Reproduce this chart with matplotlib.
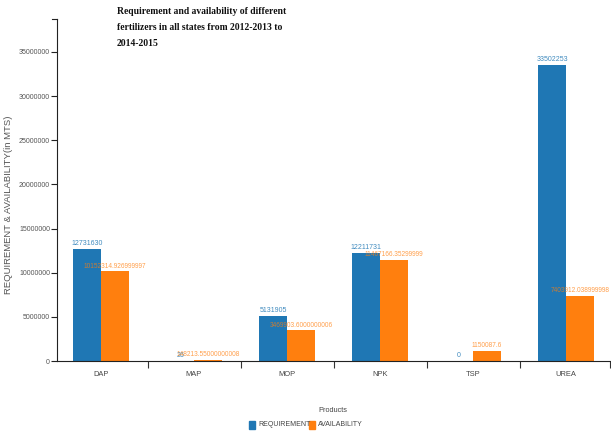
import matplotlib
matplotlib.use("Agg")
import matplotlib.pyplot as plt
from matplotlib.ticker import FixedLocator, NullFormatter

# Fertilizer data (in MTS)
products = ["DAP", "MAP", "MOP", "NPK", "TSP", "UREA"]
requirement = [12731630, 26, 5131905, 12211731, 0, 33502253]
availability = [10152314.926999997, 148213.55000000008, 3469903.6000000006,
                11467166.35299999, 1150087.6, 7403912.038999998]
requirement_labels = ["12731630", "26", "5131905", "12211731", "0", "33502253"]
availability_labels = ["10152314.926999997", "148213.55000000008", "3469903.6000000006",
                       "11467166.35299999", "1150087.6", "7403912.038999998"]
y_ticks = [0, 5000000, 10000000, 15000000, 20000000, 25000000, 30000000, 35000000]

BLUE = "#1f77b4"
ORANGE = "#ff7f0e"
SANS = "Liberation Sans"

W, H = 611, 437
fig = plt.figure(figsize=(W / 100, H / 100), dpi=100)
ax_left, ax_right, ax_top, ax_bottom = 57, 611, 19, 361
ax = fig.add_axes([ax_left / W, 1 - ax_bottom / H,
                   (ax_right - ax_left) / W, (ax_bottom - ax_top) / H])

band = 93.0
first_center = 101.0
ax.set_xlim(-(first_center - ax_left) / band, (ax_right - first_center) / band)
ax.set_ylim(0, 38730000)

bw = 0.30
x = list(range(len(products)))
ax.bar([i - bw / 2 for i in x], requirement, width=bw, color=BLUE)
ax.bar([i + bw / 2 for i in x], availability, width=bw, color=ORANGE)

for i in x:
    ax.annotate(requirement_labels[i], (i - bw / 2, requirement[i]),
                xytext=(0, 1.2), textcoords="offset points", ha="center", va="bottom",
                fontsize=5, family=SANS, color=BLUE, alpha=0.85)
    ax.annotate(availability_labels[i], (i + bw / 2, availability[i]),
                xytext=(0, 1.2), textcoords="offset points", ha="center", va="bottom",
                fontsize=4.7, family=SANS, color=ORANGE, alpha=0.75)

# axes styling
for s in ["top", "right"]:
    ax.spines[s].set_visible(False)
for s in ["left", "bottom"]:
    ax.spines[s].set_color("#222222")
    ax.spines[s].set_linewidth(0.8)

ax.yaxis.set_major_locator(FixedLocator(y_ticks))
ax.set_yticklabels([str(v) for v in y_ticks])
ax.tick_params(axis="y", length=4, width=0.8, color="#222222", pad=1,
               labelsize=5, labelcolor="#555555")
for lbl in ax.get_yticklabels():
    lbl.set_family(SANS)

ax.set_xticks(x)
ax.set_xticklabels(products)
ax.tick_params(axis="x", which="major", length=0, pad=7, labelsize=5.4, labelcolor="#444444")
for lbl in ax.get_xticklabels():
    lbl.set_family(SANS)
ax.xaxis.set_minor_locator(FixedLocator([i + 0.5 for i in range(len(products) - 1)] +
                                        [(ax_right - 1 - first_center) / band]))
ax.xaxis.set_minor_formatter(NullFormatter())
ax.tick_params(axis="x", which="minor", length=5, width=0.8, color="#333333")

# outer tick at the top of the y axis
ax.plot([-(first_center - ax_left) / band - 5 / band, -(first_center - ax_left) / band],
        [38730000, 38730000], color="#222222", lw=0.8, clip_on=False)

ax.set_ylabel("REQUIREMENT & AVAILABILITY(in MTS)", fontsize=6.8, family=SANS,
              color="#555555", labelpad=0)
ax.yaxis.set_label_coords(-44 / (ax_right - ax_left), 0.456)

# title
title_lines = ["Requirement and availability of different",
               "fertilizers in all states from 2012-2013 to",
               "2014-2015"]
for k, line in enumerate(title_lines):
    fig.text(117 / W, 1 - (12 + 16 * k) / H, line, ha="left", va="center",
             fontsize=6.9, fontweight="bold", family="Liberation Serif", color="#111111")

# x-axis title and legend
fig.text(333 / W, 1 - 410 / H, "Products", ha="center", va="center",
         fontsize=5.3, family=SANS, color="#444444")
fig.patches.append(plt.Rectangle((249 / W, 1 - 429 / H), 6 / W, 8 / H,
                                 transform=fig.transFigure, color=BLUE))
fig.text(258 / W, 1 - 425 / H, "REQUIREMENT", ha="left", va="center",
         fontsize=5.0, family=SANS, color="#444444")
fig.patches.append(plt.Rectangle((309 / W, 1 - 429 / H), 6 / W, 8 / H,
                                 transform=fig.transFigure, color=ORANGE))
fig.text(318 / W, 1 - 425 / H, "AVAILABILITY", ha="left", va="center",
         fontsize=5.0, family=SANS, color="#444444")

fig.savefig("out.png", dpi=100)
